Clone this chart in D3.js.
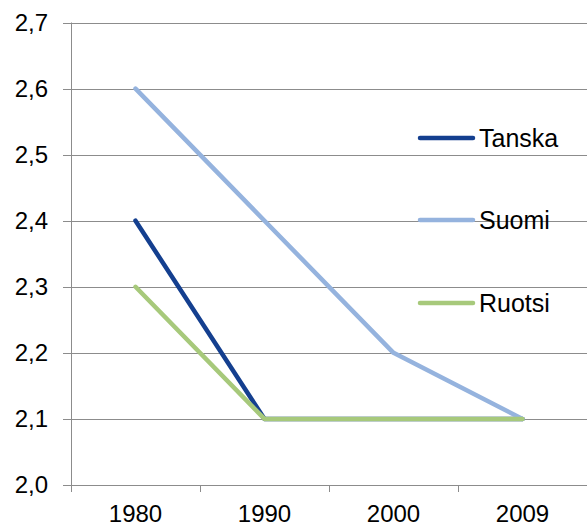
<!DOCTYPE html>
<html>
<head>
<meta charset="utf-8">
<script src="https://cdn.jsdelivr.net/npm/d3@7"></script>
<style>
  body { margin: 0; background: #fff; }
  svg text { font-family: "Liberation Sans", Arial, sans-serif; fill: #000; }
</style>
</head>
<body>
<div id="chart"></div>
<script>
(function () {
  'use strict';

  // ── Data ──
  var years = ['1980', '1990', '2000', '2009'];
  var tanska = [2.4, 2.1, 2.1, 2.1];
  var suomi = [2.6, 2.4, 2.2, 2.1];
  var ruotsi = [2.3, 2.1, 2.1, 2.1];
  var yTicks = [2.0, 2.1, 2.2, 2.3, 2.4, 2.5, 2.6, 2.7];

  var series = [
    { name: 'Tanska', values: tanska, color: '#143f8f', legendY: 138 },
    { name: 'Suomi', values: suomi, color: '#95b3de', legendY: 220 },
    { name: 'Ruotsi', values: ruotsi, color: '#a7c97b', legendY: 303 }
  ];

  var width = 587, height = 528;
  var left = 71, right = 587, top = 22.5, bottom = 485;
  var GRID = '#8c8c8c';
  var FONT_SIZE = '25px';

  var svg = d3.select('#chart').append('svg')
    .attr('width', width)
    .attr('height', height);

  var x = d3.scaleBand().domain(years).range([left, right]);
  var y = d3.scaleLinear().domain([2.0, 2.7]).range([bottom, top]);

  // ── Gridlines + y ticks ──
  svg.append('g').selectAll('line')
    .data(yTicks)
    .join('line')
    .attr('x1', left - 8)
    .attr('x2', right)
    .attr('y1', function (d) { return Math.round(y(d)) + 0.5; })
    .attr('y2', function (d) { return Math.round(y(d)) + 0.5; })
    .attr('stroke', GRID)
    .attr('stroke-width', 1);

  svg.append('g').selectAll('text')
    .data(yTicks)
    .join('text')
    .attr('x', 48)
    .attr('y', function (d) { return y(d); })
    .attr('dy', '0.35em')
    .attr('text-anchor', 'end')
    .attr('font-size', '24px')
    .text(function (d) { return d.toFixed(1).replace('.', ','); });

  // ── Axes lines ──
  svg.append('line')
    .attr('x1', left + 0.5).attr('x2', left + 0.5)
    .attr('y1', top).attr('y2', bottom + 7)
    .attr('stroke', GRID);

  var xTicks = years.map(function (d) { return x(d); }).concat([right]);
  svg.append('g').selectAll('line')
    .data(xTicks.slice(1))
    .join('line')
    .attr('x1', function (d) { return Math.round(d) + 0.5; })
    .attr('x2', function (d) { return Math.round(d) + 0.5; })
    .attr('y1', bottom)
    .attr('y2', bottom + 7)
    .attr('stroke', GRID);

  svg.append('g').selectAll('text')
    .data(years)
    .join('text')
    .attr('x', function (d) { return x(d) + x.bandwidth() / 2; })
    .attr('y', 522)
    .attr('text-anchor', 'middle')
    .attr('font-size', '24px')
    .text(function (d) { return d; });

  // ── Lines ──
  var line = d3.line()
    .x(function (d, i) { return x(years[i]) + x.bandwidth() / 2; })
    .y(function (d) { return y(d); });

  svg.append('g').selectAll('path')
    .data(series)
    .join('path')
    .attr('d', function (d) { return line(d.values); })
    .attr('fill', 'none')
    .attr('stroke', function (d) { return d.color; })
    .attr('stroke-width', 4.5)
    .attr('stroke-linejoin', 'round')
    .attr('stroke-linecap', 'round');

  // ── Legend ──
  var legend = svg.append('g').selectAll('g')
    .data(series)
    .join('g');

  legend.append('line')
    .attr('x1', 420).attr('x2', 473)
    .attr('y1', function (d) { return d.legendY; })
    .attr('y2', function (d) { return d.legendY; })
    .attr('stroke', function (d) { return d.color; })
    .attr('stroke-width', 4.5)
    .attr('stroke-linecap', 'round');

  legend.append('text')
    .attr('x', 479)
    .attr('y', function (d) { return d.legendY; })
    .attr('dy', '0.35em')
    .attr('font-size', FONT_SIZE)
    .text(function (d) { return d.name; });
})();
</script>
</body>
</html>
